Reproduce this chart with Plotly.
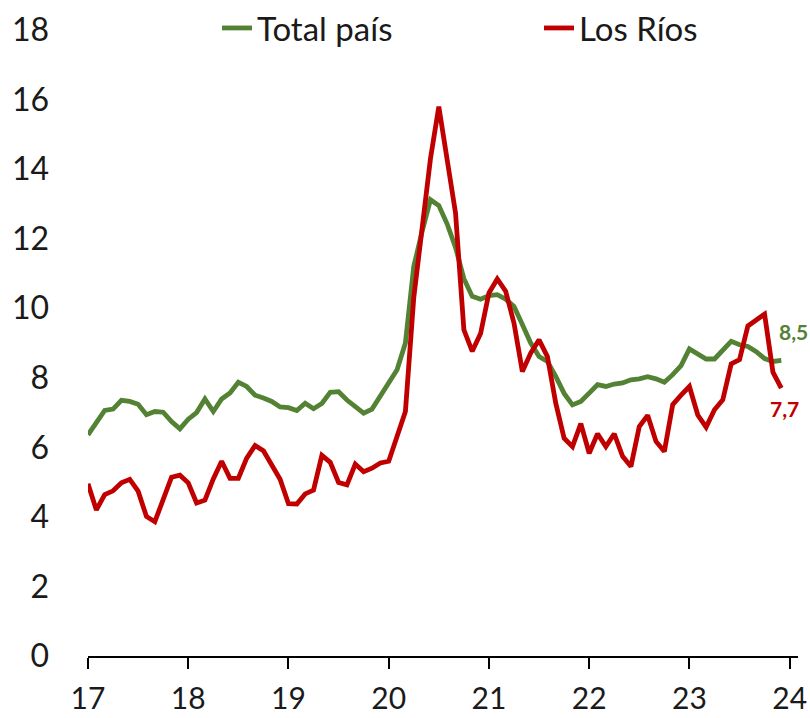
import plotly.graph_objects as go

# Monthly unemployment rate (%), moving quarter, Jan 2017 .. Dec 2023
year_labels = ["17", "18", "19", "20", "21", "22", "23", "24"]

total_pais = [
    6.36, 6.74, 7.06, 7.10, 7.35, 7.32, 7.24, 6.94, 7.03, 7.01, 6.74, 6.53,
    6.81, 7.00, 7.39, 7.03, 7.39, 7.56, 7.87, 7.75, 7.50, 7.42, 7.32, 7.16,
    7.14, 7.06, 7.27, 7.11, 7.26, 7.58, 7.60, 7.36, 7.16, 6.98, 7.10, 7.46,
    7.85, 8.23, 9.00, 11.20, 12.21, 13.12, 12.95, 12.42, 11.75, 10.85, 10.34, 10.26,
    10.36, 10.39, 10.26, 10.05, 9.53, 9.00, 8.61, 8.47, 8.04, 7.55, 7.22, 7.32,
    7.56, 7.80, 7.75, 7.82, 7.85, 7.94, 7.97, 8.03, 7.97, 7.87, 8.09, 8.35,
    8.83, 8.69, 8.54, 8.54, 8.80, 9.05, 8.95, 8.90, 8.75, 8.55, 8.47, 8.50,
]

los_rios = [
    4.95, 4.20, 4.64, 4.75, 4.98, 5.08, 4.74, 4.01, 3.86, 4.50, 5.14, 5.20,
    4.98, 4.40, 4.48, 5.09, 5.60, 5.11, 5.11, 5.69, 6.05, 5.90, 5.47, 5.08,
    4.38, 4.37, 4.66, 4.77, 5.77, 5.57, 4.99, 4.92, 5.52, 5.30, 5.40, 5.55,
    5.60, 6.33, 7.03, 10.30, 12.45, 14.30, 15.80, 14.17, 12.74, 9.38, 8.76, 9.27,
    10.44, 10.84, 10.49, 9.57, 8.18, 8.71, 9.09, 8.61, 7.27, 6.26, 6.02, 6.68,
    5.83, 6.39, 6.02, 6.39, 5.74, 5.45, 6.60, 6.92, 6.17, 5.88, 7.23, 7.50,
    7.75, 6.93, 6.58, 7.08, 7.37, 8.40, 8.52, 9.49, 9.67, 9.83, 8.16, 7.70,
]

months = list(range(len(total_pais)))
year_ticks = [12 * k for k in range(len(year_labels))]

GREEN = "#548235"
RED = "#C00000"
INK = "#1a1a1a"
FONT = "Lato"

fig = go.Figure()
fig.add_trace(go.Scatter(
    x=months, y=total_pais, name="Total país", mode="lines",
    line=dict(color=GREEN, width=4.8), legend="legend",
))
fig.add_trace(go.Scatter(
    x=months, y=los_rios, name="Los Ríos", mode="lines",
    line=dict(color=RED, width=4.8), legend="legend2",
))

# end-of-series value labels
fig.add_annotation(
    x=months[-1], y=total_pais[-1], text="<b>8,5</b>", showarrow=False,
    xshift=12, yshift=29, font=dict(family=FONT, size=21, color=GREEN),
)
fig.add_annotation(
    x=months[-1], y=los_rios[-1], text="<b>7,7</b>", showarrow=False,
    xshift=3, yshift=-20, font=dict(family=FONT, size=21, color=RED),
)

legend_style = dict(
    orientation="h", xref="container", yref="container",
    xanchor="left", yanchor="middle", y=1 - 28 / 718,
    font=dict(family=FONT, size=33, color=INK),
    bgcolor="rgba(0,0,0,0)",
)

fig.update_layout(
    width=810, height=718,
    margin=dict(l=88, r=12, t=30, b=62, autoexpand=False),
    paper_bgcolor="white", plot_bgcolor="white",
    font=dict(family=FONT, size=32, color=INK),
    showlegend=True,
    legend=dict(legend_style, x=217 / 810),
    legend2=dict(legend_style, x=539 / 810),
    xaxis=dict(
        range=[0, 85], tickvals=year_ticks, ticktext=year_labels,
        showline=True, linecolor="black", linewidth=2,
        ticks="outside", ticklen=11, tickwidth=1.5, tickcolor="black",
        showgrid=False, zeroline=False, ticklabelstandoff=4,
        tickfont=dict(family=FONT, size=30, color=INK),
        automargin=False,
    ),
    yaxis=dict(
        range=[0, 18], dtick=2, tick0=0,
        showline=False, showgrid=False, zeroline=False, ticks="",
        ticklabelstandoff=38, automargin=False,
    ),
)

fig.write_html("out.html")
